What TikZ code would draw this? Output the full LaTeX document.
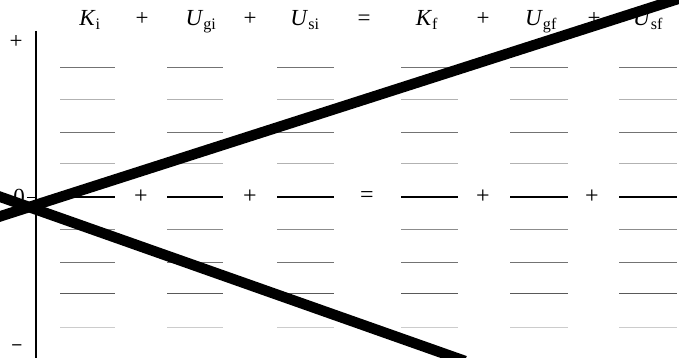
\documentclass[tikz,border=0pt]{standalone}
\usepackage{fontspec}
\setmainfont{Liberation Serif}
\begin{document}
\begin{tikzpicture}[x=1pt,y=-1pt,
  hdr/.style={font=\fontsize{23}{25}\selectfont, inner sep=0pt, anchor=base},
  op/.style={font=\fontsize{24}{26}\selectfont, inner sep=0pt},
  axl/.style={font=\fontsize{23}{25}\selectfont, inner sep=0pt},
  thick bar/.style={line width=10.5pt, black},
]
\useasboundingbox (0,0) rectangle (679,358);
% header labels
\node[hdr] (ki)  at (90,26)  {\textit{K}\textsubscript{i}};
\node[hdr] (p1)  at (142,26) {+};
\node[hdr] (ugi) at (201,26) {\textit{U}\textsubscript{gi}};
\node[hdr] (p2)  at (250,26) {+};
\node[hdr] (usi) at (305,26) {\textit{U}\textsubscript{si}};
\node[hdr] (eq)  at (364,26) {=};
\node[hdr] (kf)  at (427,26) {\textit{K}\textsubscript{f}};
\node[hdr] (p3)  at (483,26) {+};
\node[hdr] (ugf) at (541,26) {\textit{U}\textsubscript{gf}};
\node[hdr] (p4)  at (594,26) {+};
\node[hdr] (usf) at (648,26) {\textit{U}\textsubscript{sf}};
% axis
\coordinate (atop) at (36,31);
\coordinate (abot) at (36,358);
\draw[line width=1.3pt] (atop) -- (abot);
\coordinate (tk) at (27,197);
\coordinate (tk2) at (36,197);
\draw[line width=0.8pt] (tk) -- (tk2);
\node[axl] (plus) at (16,42) {+};
\node[axl] (zero) at (19,197) {0};
\node[inner sep=0pt, font=\fontsize{18}{18}\selectfont] (minus) at (17,347) {\textbf{–}};
% rows of bars
\foreach \y/\c/\w in {67/black!55/0.9, 99/black!30/0.8, 132/black!55/0.9, 163/black!30/0.8, 229/black!45/0.9, 262/black!55/0.9, 293/black!65/0.9, 327/black!20/0.8, 197/black/1.4}{
  \foreach \xa/\xb in {60/115, 167/223, 277/334, 401/458, 510/568, 619/677}{
    \draw[line width=\w pt, draw=\c] (\xa,\y) -- (\xb,\y);
  }
}
% operators on the zero row
\node[op] (z1) at (141,197) {+};
\node[op] (z2) at (250,197) {+};
\node[op] (z3) at (367,197) {=};
\node[op] (z4) at (483,197) {+};
\node[op] (z5) at (592,197) {+};
% thick lines
\coordinate (l1a) at (-5,218);
\coordinate (l1b) at (684,-3);
\coordinate (l2a) at (-5,195);
\coordinate (l2b) at (465,361);
\draw[thick bar] (l1a) -- (l1b);
\draw[thick bar] (l2a) -- (l2b);
\end{tikzpicture}
\end{document}
